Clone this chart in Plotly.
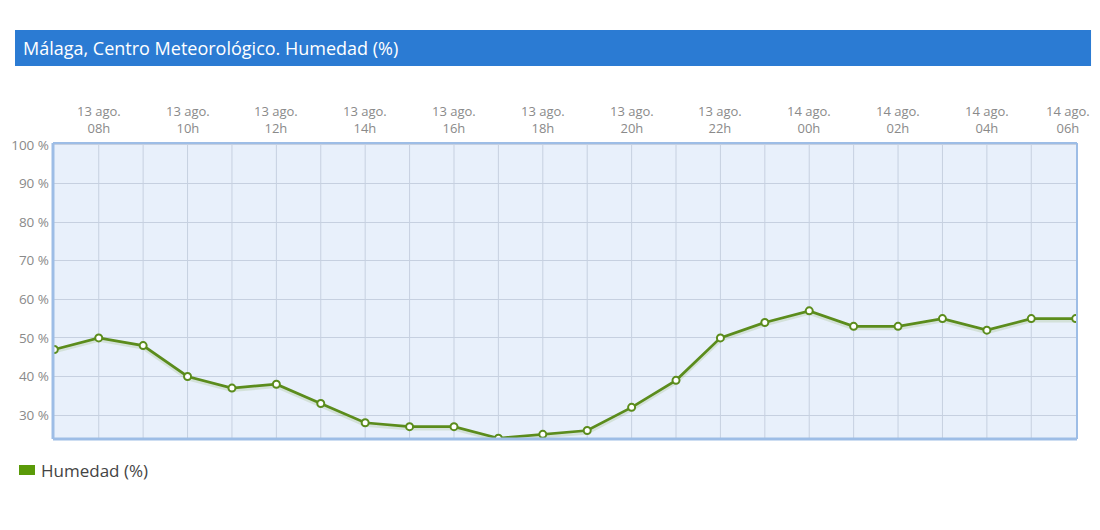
import plotly.graph_objects as go

horas = ["13 ago. 07h", "13 ago. 08h", "13 ago. 09h", "13 ago. 10h", "13 ago. 11h",
         "13 ago. 12h", "13 ago. 13h", "13 ago. 14h", "13 ago. 15h", "13 ago. 16h",
         "13 ago. 17h", "13 ago. 18h", "13 ago. 19h", "13 ago. 20h", "13 ago. 21h",
         "13 ago. 22h", "13 ago. 23h", "14 ago. 00h", "14 ago. 01h", "14 ago. 02h",
         "14 ago. 03h", "14 ago. 04h", "14 ago. 05h", "14 ago. 06h"]
humedad = [47, 50, 48, 40, 37, 38, 33, 28, 27, 27, 24, 25, 26, 32, 39,
           50, 54, 57, 53, 53, 55, 52, 55, 55]
y_ticks = [30, 40, 50, 60, 70, 80, 90, 100]

x = list(range(len(horas)))
tick_x = x[1::2]
tick_txt = [h.rsplit(" ", 1)[0] + "<br>" + h.rsplit(" ", 1)[1] for h in horas[1::2]]

verde = "#5b8c1c"
borde = "#9dbde6"

fig = go.Figure()
# sombra suave bajo la línea
fig.add_trace(go.Scatter(x=x, y=[v - 0.5 for v in humedad], mode="lines",
                         line=dict(color="rgba(91,140,28,0.15)", width=4),
                         hoverinfo="skip", showlegend=False))
fig.add_trace(go.Scatter(x=x, y=humedad, mode="lines+markers", name="Humedad (%)",
                         line=dict(color=verde, width=2.7),
                         marker=dict(size=7, color="white", line=dict(color=verde, width=2))))

fig.update_layout(
    width=1092, height=506,
    margin=dict(l=45, r=23, t=135, b=75),
    paper_bgcolor="white", plot_bgcolor="#e8f0fb",
    font=dict(family="Open Sans", color="#888888", size=13),
    showlegend=False,
    xaxis=dict(range=[-0.03, len(horas) - 1 + 0.03], side="top", automargin=False,
               tickvals=tick_x, showticklabels=False,
               showgrid=False, zeroline=False, ticks=""),
    yaxis=dict(range=[23.8, 100.5], tickvals=y_ticks, automargin=False,
               ticktext=[f"{v} %" for v in y_ticks], tickfont=dict(size=13.5, color="#8a8a8a"),
               gridcolor="#c6d0e0", gridwidth=1, zeroline=False, ticks="", ticklabelstandoff=3),
)

# etiquetas del eje temporal (arriba); la última se recoge para que no se corte
for i, (xi, txt) in enumerate(zip(tick_x, tick_txt)):
    fig.add_annotation(xref="x", yref="paper", x=xi, y=1, yshift=4, yanchor="bottom",
                       xshift=-8 if i == len(tick_x) - 1 else 0,
                       text=txt, showarrow=False, align="center",
                       font=dict(family="Open Sans", size=13, color="#8a8a8a"))

# rejilla vertical horaria
for xi in x[1:-1]:
    fig.add_shape(type="line", xref="x", yref="paper", x0=xi, x1=xi, y0=0, y1=1,
                  line=dict(color="#c6d0e0", width=1), layer="below")

# marco del gráfico
fig.add_shape(type="line", xref="paper", yref="paper", x0=0, x1=1, y0=1, y1=1, line=dict(color=borde, width=2))
fig.add_shape(type="line", xref="paper", yref="paper", x0=1, x1=1, y0=0, y1=1, line=dict(color=borde, width=2))
fig.add_shape(type="line", xref="paper", yref="paper", x0=0, x1=0, y0=0, y1=1, line=dict(color=borde, width=3))
fig.add_shape(type="line", xref="paper", yref="paper", x0=0, x1=1, y0=0, y1=0, line=dict(color=borde, width=3))

# barra del título
fig.add_shape(type="rect", xref="paper", yref="paper", x0=-0.0371, x1=1.0137, y0=1.2601, y1=1.3818,
              fillcolor="#2b7bd3", line=dict(width=0))
fig.add_annotation(xref="paper", yref="paper", x=-0.0313, y=1.321, xanchor="left", yanchor="middle",
                   text="Málaga, Centro Meteorológico. Humedad (%)", showarrow=False,
                   font=dict(family="Open Sans", size=18, color="white"))

# leyenda
fig.add_shape(type="rect", xref="paper", yref="paper", x0=-0.0332, x1=-0.0176, y0=-0.1216, y1=-0.0878,
              fillcolor="#5a9a08", line=dict(width=0))
fig.add_annotation(xref="paper", yref="paper", x=-0.0137, y=-0.105, xanchor="left", yanchor="middle",
                   text="Humedad (%)", showarrow=False,
                   font=dict(family="Open Sans", size=17, color="#444444"))

fig.write_html("out.html")
